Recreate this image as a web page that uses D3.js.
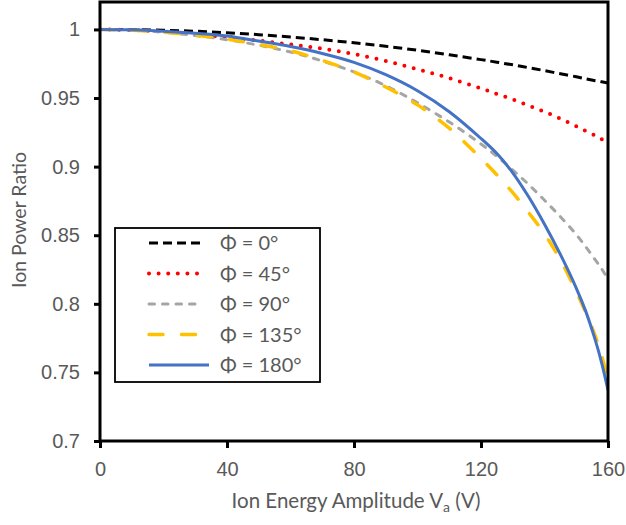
<!DOCTYPE html>
<html>
<head>
<meta charset="utf-8">
<script src="https://cdn.jsdelivr.net/npm/d3@7"></script>
<style>
  html, body { margin: 0; padding: 0; background: #fff; }
  svg { display: block; font-family: Lato, "Open Sans", sans-serif; }
</style>
</head>
<body>
<svg id="chart" width="626" height="525"></svg>
<script>
// ---- data ----
const voltage = [0, 10, 20, 30, 40, 50, 60, 70, 80, 90, 100, 110, 120, 125, 130, 135, 140, 145, 150, 153, 156, 158, 160];
const phi0   = [1, 0.9999, 0.9994, 0.9987, 0.9976, 0.9962, 0.9945, 0.9925, 0.9903, 0.9877, 0.9848, 0.9815, 0.978, 0.9761, 0.9742, 0.9721, 0.970, 0.9677, 0.9655, 0.9640, 0.9626, 0.9618, 0.961];
const phi45  = [1, 0.9996, 0.9985, 0.9967, 0.994, 0.9918, 0.989, 0.986, 0.982, 0.977, 0.971, 0.9645, 0.957, 0.953, 0.949, 0.9445, 0.940, 0.935, 0.9295, 0.926, 0.9225, 0.920, 0.917];
const phi90  = [1, 0.9995, 0.998, 0.9955, 0.9925, 0.9885, 0.9835, 0.977, 0.969, 0.959, 0.9465, 0.9325, 0.9165, 0.9075, 0.8975, 0.887, 0.8755, 0.8635, 0.8505, 0.8415, 0.8320, 0.8255, 0.818];
const phi135 = [1, 0.9995, 0.998, 0.9958, 0.993, 0.989, 0.9845, 0.9775, 0.969, 0.958, 0.945, 0.928, 0.906, 0.894, 0.881, 0.8665, 0.851, 0.832, 0.809, 0.7935, 0.7765, 0.762, 0.745];
const phi180 = [1, 0.9997, 0.9987, 0.9972, 0.9952, 0.9915, 0.9875, 0.9825, 0.976, 0.967, 0.9553, 0.940, 0.9205, 0.9095, 0.8955, 0.878, 0.858, 0.836, 0.8115, 0.7945, 0.7735, 0.757, 0.737];
const seriesNames = ["Φ = 0°", "Φ = 45°", "Φ = 90°", "Φ = 135°", "Φ = 180°"];
const xTicks = [0, 40, 80, 120, 160];
const yTicks = [0.7, 0.75, 0.8, 0.85, 0.9, 0.95, 1];

// ---- styles ----
const styles = [
  { color: "#000000", width: 3,   dash: "9,5",       cap: "butt"  },
  { color: "#FF0000", width: 4,   dash: "0,9.6",     cap: "round" },
  { color: "#A5A5A5", width: 3,   dash: "5.5,8",     cap: "round" },
  { color: "#FFC000", width: 3.5, dash: "14,18.5",   cap: "round" },
  { color: "#4472C4", width: 3,   dash: null,        cap: "butt"  }
];
const seriesValues = [phi0, phi45, phi90, phi135, phi180];

const svg = d3.select("#chart");
const plot = { left: 100, right: 608, top: 2, bottom: 441 };
const x = d3.scaleLinear().domain([0, 160]).range([plot.left, plot.right]);
const y = d3.scaleLinear().domain([0.7, 1.02]).range([plot.bottom, plot.top]);

const textColor = "#595959";

// axes
const xAxis = d3.axisBottom(x).tickValues(xTicks).tickSize(7).tickPadding(14).tickFormat(d3.format("d"));
const gx = svg.append("g").attr("transform", `translate(0,${plot.bottom})`).call(xAxis);
gx.select(".domain").remove();
gx.selectAll(".tick line").attr("stroke", "#000").attr("stroke-width", 3);
gx.selectAll(".tick text").attr("fill", textColor).attr("font-size", 20);

const yAxis = d3.axisLeft(y).tickValues(yTicks).tickSize(6).tickPadding(14).tickFormat(d => d === 1 ? "1" : d3.format(".2~f")(d));
const gy = svg.append("g").attr("transform", `translate(${plot.left},0)`).call(yAxis);
gy.select(".domain").remove();
gy.selectAll(".tick line").attr("stroke", "#000").attr("stroke-width", 3);
gy.selectAll(".tick text").attr("fill", textColor).attr("font-size", 20);

// lines
svg.append("clipPath").attr("id", "clip").append("rect")
  .attr("x", plot.left).attr("y", plot.top).attr("width", plot.right - plot.left).attr("height", plot.bottom - plot.top);

const line = d3.line().x(d => x(d[0])).y(d => y(d[1])).curve(d3.curveCatmullRom.alpha(0.5));
const gLines = svg.append("g").attr("clip-path", "url(#clip)");
seriesValues.forEach((vals, i) => {
  const st = styles[i];
  gLines.append("path")
    .datum(voltage.map((v, j) => [v, vals[j]]))
    .attr("d", line)
    .attr("fill", "none")
    .attr("stroke", st.color)
    .attr("stroke-width", st.width)
    .attr("stroke-linecap", st.cap)
    .attr("stroke-dasharray", st.dash);
});

// frame
svg.append("rect")
  .attr("x", plot.left).attr("y", plot.top)
  .attr("width", plot.right - plot.left).attr("height", plot.bottom - plot.top)
  .attr("fill", "none").attr("stroke", "#000").attr("stroke-width", 3);

// legend
const lg = svg.append("g");
lg.append("rect").attr("x", 115).attr("y", 228).attr("width", 205).attr("height", 154)
  .attr("fill", "#fff").attr("stroke", "#000").attr("stroke-width", 1.8);
seriesNames.forEach((name, i) => {
  const st = styles[i];
  const cy = 243 + i * 30.5;
  lg.append("line").attr("x1", 149).attr("x2", i === 4 ? 209 : 203).attr("y1", cy).attr("y2", cy)
    .attr("stroke", st.color).attr("stroke-width", st.width)
    .attr("stroke-linecap", st.cap).attr("stroke-dasharray", st.dash);
  lg.append("text").attr("x", 220).attr("y", cy).attr("dy", "0.35em")
    .attr("fill", textColor).attr("font-size", 20).text(name);
});

// axis titles
const xt = svg.append("text").attr("x", 356).attr("y", 508).attr("text-anchor", "middle")
  .attr("fill", textColor).attr("font-size", 20.5);
xt.append("tspan").text("Ion Energy Amplitude V");
xt.append("tspan").attr("font-size", 14).attr("dy", 4).text("a");
xt.append("tspan").attr("dy", -4).text(" (V)");

svg.append("text").attr("transform", "translate(26,220) rotate(-90)").attr("text-anchor", "middle")
  .attr("fill", textColor).attr("font-size", 19.5).text("Ion Power Ratio");
</script>
</body>
</html>
